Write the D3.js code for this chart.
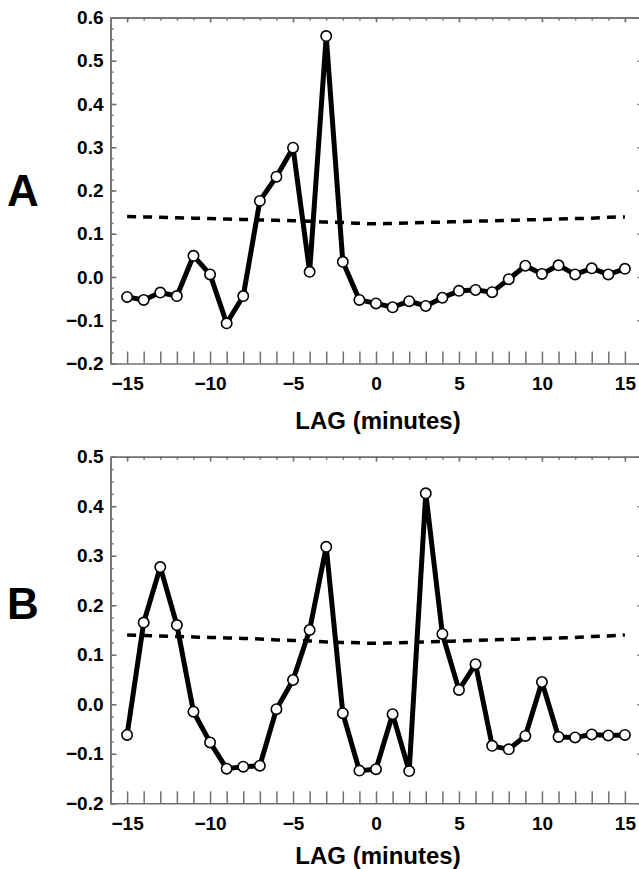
<!DOCTYPE html>
<html lang="en">
<head>
  <meta charset="UTF-8">
  <title>Cross-correlation by lag</title>
  <script src="https://d3js.org/d3.v7.min.js"></script>
  <style>
    body { margin: 0; background: #fff; }
    svg { font-family: "Liberation Sans", Arial, sans-serif; font-weight: bold; }
    .axis path, .axis line { stroke: #707070; stroke-width: 1.5px; }
    .axis text { font-size: 19px; font-weight: bold; fill: #000; }
    .series { fill: none; stroke: #000; stroke-width: 5px; stroke-linejoin: round; }
    .limit { fill: none; stroke: #000; stroke-width: 3.5px; stroke-dasharray: 9 7; }
    .dot { fill: #fff; stroke: #000; stroke-width: 1.6px; }
  </style>
</head>
<body>
  <svg id="chart"></svg>
  <script>
    const width = 639;
    const height = 869;

    // lags in minutes
    const lags = [-15, -14, -13, -12, -11, -10, -9, -8, -7, -6, -5, -4, -3, -2, -1,
      0, 1, 2, 3, 4, 5, 6, 7, 8, 9, 10, 11, 12, 13, 14, 15];

    // panel A correlation values
    const valuesA = [-0.046, -0.053, -0.036, -0.044, 0.049, 0.006, -0.107, -0.044, 0.176, 0.232,
      0.299, 0.012, 0.557, 0.035, -0.053, -0.061, -0.070, -0.056, -0.067, -0.048, -0.032,
      -0.030, -0.035, -0.005, 0.026, 0.007, 0.027, 0.006, 0.020, 0.006, 0.019];
    // panel A significance limit (dashed)
    const limitA = [0.140, 0.139, 0.138, 0.137, 0.136, 0.135, 0.134, 0.133, 0.132, 0.131,
      0.130, 0.129, 0.127, 0.126, 0.124, 0.123, 0.124, 0.125, 0.126, 0.127, 0.128,
      0.129, 0.130, 0.131, 0.132, 0.133, 0.134, 0.135, 0.136, 0.138, 0.139];

    // panel B correlation values
    const valuesB = [-0.062, 0.165, 0.277, 0.160, -0.015, -0.077, -0.130, -0.126, -0.124, -0.010,
      0.049, 0.150, 0.318, -0.018, -0.134, -0.131, -0.020, -0.135, 0.426, 0.142, 0.029,
      0.081, -0.084, -0.091, -0.064, 0.045, -0.066, -0.067, -0.061, -0.063, -0.062];
    const limitB = [0.140, 0.139, 0.138, 0.137, 0.136, 0.135, 0.134, 0.133, 0.132, 0.130,
      0.129, 0.128, 0.126, 0.125, 0.124, 0.123, 0.124, 0.125, 0.126, 0.127, 0.128,
      0.129, 0.130, 0.131, 0.132, 0.133, 0.134, 0.135, 0.137, 0.138, 0.140];

    const xTickLabels = [-15, -10, -5, 0, 5, 10, 15];
    const yTicksA = [-0.2, -0.1, 0.0, 0.1, 0.2, 0.3, 0.4, 0.5, 0.6];
    const yTicksB = [-0.2, -0.1, 0.0, 0.1, 0.2, 0.3, 0.4, 0.5];

    const svg = d3.select("#chart")
      .attr("width", width)
      .attr("height", height);

    const x = d3.scaleLinear().domain([-16, 16]).range([110.5, 641.5]);

    function drawPanel(cfg) {
      const y = d3.scaleLinear().domain(cfg.domain).range([cfg.bottom, cfg.top]);
      const g = svg.append("g");

      // bottom axis: every lag ticked, labels every 5
      g.append("g")
        .attr("class", "axis")
        .attr("transform", `translate(0,${cfg.bottom})`)
        .call(d3.axisBottom(x)
          .tickValues(lags)
          .tickSizeInner(-12).tickSizeOuter(0).tickPadding(13)
          .tickFormat(d => xTickLabels.includes(d) ? d3.format("d")(d) : ""));

      // top axis: short ticks
      g.append("g")
        .attr("class", "axis")
        .attr("transform", `translate(0,${cfg.top})`)
        .call(d3.axisTop(x).tickValues(lags).tickSizeInner(-3).tickSizeOuter(0).tickFormat(""));
      g.append("g")
        .attr("class", "axis")
        .attr("transform", `translate(0,${cfg.top})`)
        .call(d3.axisTop(x).tickValues(xTickLabels).tickSizeInner(-5).tickSizeOuter(0).tickFormat(""));

      // left axis: minor ticks every 0.025, majors labelled
      const minor = d3.range(cfg.domain[0], cfg.domain[1] + 0.001, 0.025);
      g.append("g")
        .attr("class", "axis")
        .attr("transform", `translate(${x.range()[0]},0)`)
        .call(d3.axisLeft(y).tickValues(minor).tickSizeInner(-3).tickSizeOuter(0).tickFormat(""));
      g.append("g")
        .attr("class", "axis")
        .attr("transform", `translate(${x.range()[0]},0)`)
        .call(d3.axisLeft(y).tickValues(cfg.yTicks)
          .tickSizeInner(-6).tickSizeOuter(0).tickPadding(7)
          .tickFormat(d3.format(".1f")));

      // right axis
      g.append("g")
        .attr("class", "axis")
        .attr("transform", `translate(${x.range()[1]},0)`)
        .call(d3.axisRight(y).tickValues(cfg.yTicks).tickSizeInner(-4).tickSizeOuter(0).tickFormat(""));

      // dashed limit line
      g.append("path")
        .datum(lags.map((l, i) => [l, cfg.limit[i]]))
        .attr("class", "limit")
        .attr("d", d3.line().x(d => x(d[0])).y(d => y(d[1])).curve(d3.curveMonotoneX));

      // series line and markers
      const pts = lags.map((l, i) => [l, cfg.values[i]]);
      g.append("path")
        .datum(pts)
        .attr("class", "series")
        .attr("d", d3.line().x(d => x(d[0])).y(d => y(d[1])));

      g.selectAll(".dot")
        .data(pts)
        .enter().append("circle")
        .attr("class", "dot")
        .attr("cx", d => x(d[0]))
        .attr("cy", d => y(d[1]))
        .attr("r", 5.2);

      // x axis title
      g.append("text")
        .attr("x", (x.range()[0] + x.range()[1]) / 2 + 2)
        .attr("y", cfg.titleY)
        .attr("text-anchor", "middle")
        .style("font-size", "24px")
        .text("LAG (minutes)");

      // panel letter
      g.append("text")
        .attr("x", 7)
        .attr("y", cfg.letterY)
        .style("font-size", "44px")
        .text(cfg.letter);
    }

    drawPanel({
      domain: [-0.2, 0.6], top: 17.5, bottom: 363.5,
      yTicks: yTicksA, values: valuesA, limit: limitA,
      titleY: 429, letter: "A", letterY: 206
    });

    drawPanel({
      domain: [-0.2, 0.5], top: 456.7, bottom: 803.3,
      yTicks: yTicksB, values: valuesB, limit: limitB,
      titleY: 864, letter: "B", letterY: 619
    });
  </script>
</body>
</html>
